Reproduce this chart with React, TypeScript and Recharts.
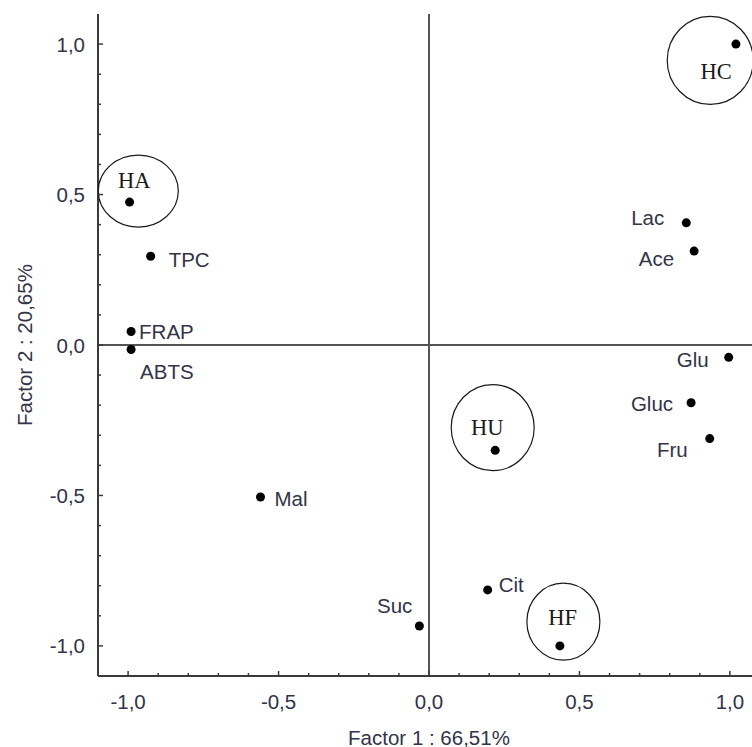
import React from 'react';
import { ScatterChart, Scatter, XAxis, YAxis, ReferenceLine, Label } from 'recharts';

// Samples (cases) projected on factor plane
const sampleNames = ['HA', 'HC', 'HU', 'HF'];
const sampleF1 = [-0.995, 1.02, 0.22, 0.435];
const sampleF2 = [0.475, 1.0, -0.35, -1.0];

// Variables projected on factor plane
const varNames = ['TPC', 'FRAP', 'ABTS', 'Mal', 'Suc', 'Cit', 'Lac', 'Ace', 'Glu', 'Gluc', 'Fru'];
const varF1 = [-0.925, -0.99, -0.99, -0.56, -0.032, 0.195, 0.855, 0.881, 0.996, 0.871, 0.933];
const varF2 = [0.295, 0.045, -0.015, -0.505, -0.934, -0.814, 0.406, 0.312, -0.041, -0.192, -0.311];

const xTicks = [-1.0, -0.9, -0.8, -0.7, -0.6, -0.5, -0.4, -0.3, -0.2, -0.1, 0.0, 0.1, 0.2, 0.3, 0.4, 0.5, 0.6, 0.7, 0.8, 0.9, 1.0];
const yTicks = [-1.0, -0.9, -0.8, -0.7, -0.6, -0.5, -0.4, -0.3, -0.2, -0.1, 0.0, 0.1, 0.2, 0.3, 0.4, 0.5, 0.6, 0.7, 0.8, 0.9, 1.0];
const majorTicks = [-1.0, -0.5, 0.0, 0.5, 1.0];
const xTitle = 'Factor 1 : 66,51%';
const yTitle = 'Factor 2 : 20,65%';

const sampleData = sampleNames.map((name, i) => ({ name, x: sampleF1[i], y: sampleF2[i] }));
const varData = varNames.map((name, i) => ({ name, x: varF1[i], y: varF2[i] }));

// styling: label offsets (pixels) relative to each point
const varLabelStyle: Record<string, { dx: number; dy: number; anchor: string }> = {
  TPC: { dx: 18, dy: 3, anchor: 'start' },
  FRAP: { dx: 8, dy: 0, anchor: 'start' },
  ABTS: { dx: 9, dy: 22, anchor: 'start' },
  Mal: { dx: 14, dy: 2, anchor: 'start' },
  Suc: { dx: -7, dy: -21, anchor: 'end' },
  Cit: { dx: 11, dy: -5, anchor: 'start' },
  Lac: { dx: -22, dy: -5, anchor: 'end' },
  Ace: { dx: -20, dy: 7, anchor: 'end' },
  Glu: { dx: -20, dy: 2, anchor: 'end' },
  Gluc: { dx: -18, dy: 1, anchor: 'end' },
  Fru: { dx: -22, dy: 11, anchor: 'end' },
};

const sampleStyle: Record<string, { ex: number; ey: number; rx: number; ry: number; tx: number; ty: number }> = {
  HA: { ex: 8.7, ey: -11, rx: 40, ry: 36, tx: 4.7, ty: -22 },
  HC: { ex: -25.7, ey: 16.3, rx: 43, ry: 44, tx: -19.7, ty: 27.3 },
  HU: { ex: -2.5, ey: -22.7, rx: 41.5, ry: 43, tx: -8, ty: -22.7 },
  HF: { ex: 3.5, ey: -24.2, rx: 36.5, ry: 38.5, tx: 2.7, ty: -28.7 },
};

const AXIS = '#3a3a3a';
const TEXT = '#33334a';
const SANS = '"Liberation Sans", Arial, sans-serif';
const SERIF = '"Liberation Serif", "Times New Roman", serif';
const FS = 20.5;

const isMajor = (v: number) => majorTicks.some((m) => Math.abs(m - v) < 1e-6);
const fmt = (v: number) => (Math.abs(v) < 1e-9 ? 0 : v).toFixed(1).replace('.', ',');

const XTickBottom = (props: any) => {
  const { x, y, payload } = props;
  const v = payload.value;
  const major = isMajor(v);
  return (
    <g>
      <line x1={x} x2={x} y1={y} y2={y - (major ? 5 : 3)} stroke={AXIS} strokeWidth={1.5} />
      {major && (
        <text x={x} y={y + 25} textAnchor="middle" dominantBaseline="central" fill={TEXT} fontFamily={SANS} fontSize={FS}>
          {fmt(v)}
        </text>
      )}
    </g>
  );
};

const XTickTop = (props: any) => {
  const { x, y, payload } = props;
  const major = isMajor(payload.value);
  return <line x1={x} x2={x} y1={y} y2={y + (major ? 5 : 3)} stroke={AXIS} strokeWidth={1.5} />;
};

const YTickLeft = (props: any) => {
  const { x, y, payload } = props;
  const v = payload.value;
  const major = isMajor(v);
  return (
    <g>
      <line x1={x} x2={x + (major ? 5 : 3)} y1={y} y2={y} stroke={AXIS} strokeWidth={1.5} />
      {major && (
        <text x={x - 13} y={y} textAnchor="end" dominantBaseline="central" fill={TEXT} fontFamily={SANS} fontSize={FS}>
          {fmt(v)}
        </text>
      )}
    </g>
  );
};

const VarShape = (props: any) => {
  const { cx, cy, payload } = props;
  const s = varLabelStyle[payload.name];
  return (
    <g>
      <circle cx={cx} cy={cy} r={4.5} fill="#000" />
      <text x={cx + s.dx} y={cy + s.dy} textAnchor={s.anchor} dominantBaseline="central" fill={TEXT} fontFamily={SANS} fontSize={FS}>
        {payload.name}
      </text>
    </g>
  );
};

const SampleShape = (props: any) => {
  const { cx, cy, payload } = props;
  const s = sampleStyle[payload.name];
  return (
    <g>
      <circle cx={cx} cy={cy} r={4.5} fill="#000" />
      <ellipse cx={cx + s.ex} cy={cy + s.ey} rx={s.rx} ry={s.ry} fill="none" stroke="#1a1a1a" strokeWidth={1.2} />
      <text x={cx + s.tx} y={cy + s.ty} textAnchor="middle" dominantBaseline="central" fill="#1a1a1a" fontFamily={SERIF} fontSize={22.5}>
        {payload.name}
      </text>
    </g>
  );
};

export default function App() {
  return (
    <div style={{ position: 'absolute', left: 0, top: 0, width: 752, height: 747, overflow: 'hidden', background: '#fff' }}>
      <ScatterChart width={770} height={747} margin={{ top: 14, right: 10, bottom: 0, left: 0 }}>
        <XAxis
          xAxisId="b"
          type="number"
          dataKey="x"
          domain={[-1.1, 1.1]}
          ticks={xTicks}
          interval={0}
          tickSize={0}
          tickMargin={0}
          tickLine={false}
          tick={XTickBottom}
          height={71}
          axisLine={{ stroke: AXIS, strokeWidth: 2 }}
          allowDataOverflow
        >
          <Label
            content={(p: any) => {
              const vb = p.viewBox;
              return (
                <text x={vb.x + vb.width / 2} y={vb.y + 61} textAnchor="middle" dominantBaseline="central" fill={TEXT} fontFamily={SANS} fontSize={FS}>
                  {xTitle}
                </text>
              );
            }}
          />
        </XAxis>
        <XAxis
          xAxisId="t"
          orientation="top"
          type="number"
          dataKey="x"
          domain={[-1.1, 1.1]}
          ticks={xTicks}
          interval={0}
          tickSize={0}
          tickMargin={0}
          tickLine={false}
          tick={XTickTop}
          height={0}
          axisLine={{ stroke: AXIS, strokeWidth: 2 }}
          allowDataOverflow
        />
        <YAxis
          yAxisId="l"
          type="number"
          dataKey="y"
          domain={[-1.1, 1.1]}
          ticks={yTicks}
          interval={0}
          tickSize={0}
          tickMargin={0}
          tickLine={false}
          tick={YTickLeft}
          width={98}
          axisLine={{ stroke: AXIS, strokeWidth: 2 }}
          allowDataOverflow
        >
          <Label
            content={(p: any) => {
              const vb = p.viewBox;
              const cx = 24;
              const cy = vb.y + vb.height / 2;
              return (
                <text x={cx} y={cy} textAnchor="middle" dominantBaseline="central" fill={TEXT} fontFamily={SANS} fontSize={FS} transform={`rotate(-90 ${cx} ${cy})`}>
                  {yTitle}
                </text>
              );
            }}
          />
        </YAxis>
        <ReferenceLine xAxisId="b" yAxisId="l" x={0} stroke="#555" strokeWidth={2} />
        <ReferenceLine xAxisId="b" yAxisId="l" y={0} stroke="#555" strokeWidth={2} />
        <Scatter xAxisId="b" yAxisId="l" data={varData} shape={VarShape} isAnimationActive={false} />
        <Scatter xAxisId="b" yAxisId="l" data={sampleData} shape={SampleShape} isAnimationActive={false} />
      </ScatterChart>
    </div>
  );
}
